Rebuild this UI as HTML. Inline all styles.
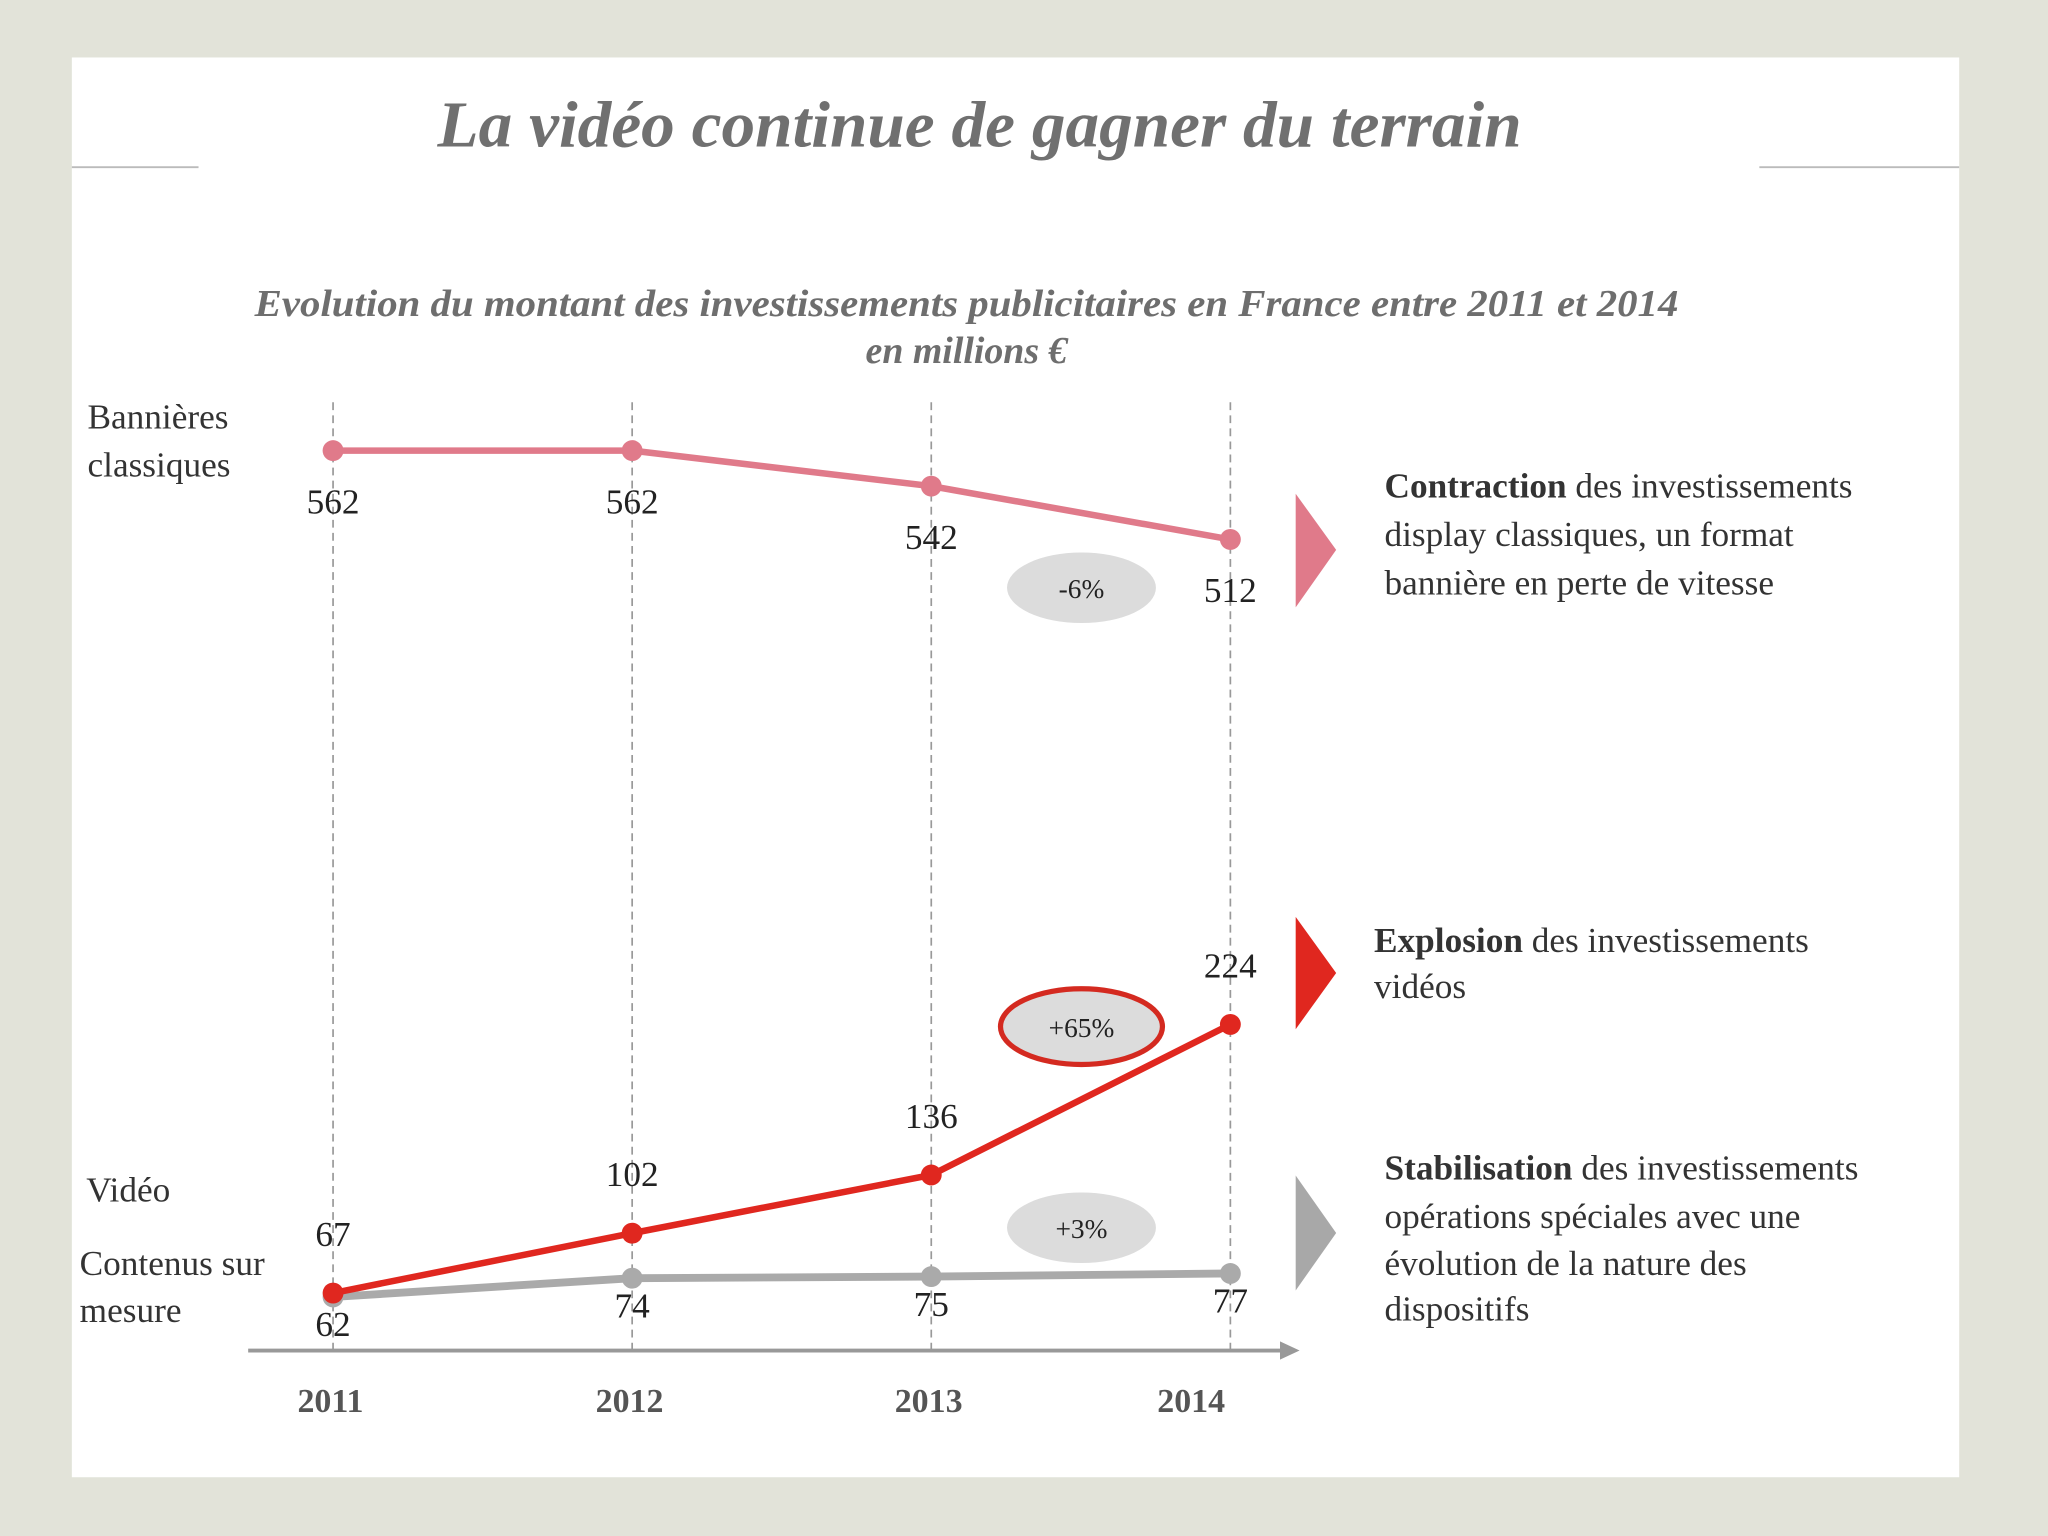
<!DOCTYPE html>
<html><head><meta charset="utf-8"><style>
html,body{margin:0;padding:0;background:#e2e3d9;}
svg{display:block;font-family:"Liberation Serif",serif;}
</style></head><body>
<svg width="2048" height="1536" viewBox="0 0 1568 1176">
<rect x="0" y="0" width="1568" height="1176" fill="#e2e3d9"/>
<rect x="55" y="44" width="1445" height="1087" fill="#ffffff"/>
<text x="335" y="112" textLength="830" lengthAdjust="spacingAndGlyphs" font-size="50" font-style="italic" font-weight="bold" fill="#707070">La vidéo continue de gagner du terrain</text>
<line x1="55" y1="128" x2="152" y2="128" stroke="#bbb" stroke-width="1.5"/>
<line x1="1347" y1="128" x2="1500" y2="128" stroke="#bbb" stroke-width="1.5"/>
<text x="195" y="242" textLength="1090" lengthAdjust="spacingAndGlyphs" font-size="29" font-style="italic" font-weight="bold" fill="#6e6e6e">Evolution du montant des investissements publicitaires en France entre 2011 et 2014</text>
<text x="740" y="278" text-anchor="middle" font-size="29" font-style="italic" font-weight="bold" fill="#6e6e6e">en millions €</text>
<g font-size="27" fill="#333">
<text x="67" y="328">Bannières</text>
<text x="67" y="365">classiques</text>
<text x="66" y="920">Vidéo</text>
<text x="61" y="976">Contenus sur</text>
<text x="61" y="1012">mesure</text>
</g>
<g id="chart"></g>
<line x1="190" y1="1034" x2="982" y2="1034" stroke="#999" stroke-width="3"/>
<polygon points="980,1027 995,1034 980,1041" fill="#999"/>
<ellipse cx="828" cy="450" rx="57" ry="27" fill="#dcdcdc"/>
<text x="828" y="458" text-anchor="middle" font-size="21" fill="#222">-6%</text>
<ellipse cx="828" cy="786" rx="62" ry="29" fill="#dcdcdc" stroke="#d42a20" stroke-width="4"/>
<text x="828" y="794" text-anchor="middle" font-size="21" fill="#222">+65%</text>
<ellipse cx="828" cy="940" rx="57" ry="27" fill="#dcdcdc"/>
<text x="828" y="948" text-anchor="middle" font-size="21" fill="#222">+3%</text>
<polygon points="992,378 1023,421 992,465" fill="#e07a8a"/>
<polygon points="992,702 1023,745 992,788" fill="#e0271f"/>
<polygon points="992,900 1023,944 992,988" fill="#a8a8a8"/>
<g font-size="27" fill="#333">
<text x="1060" y="381"><tspan font-weight="bold">Contraction</tspan> des investissements</text>
<text x="1060" y="418">display classiques, un format</text>
<text x="1060" y="455">bannière en perte de vitesse</text>
<text x="1052" y="729"><tspan font-weight="bold">Explosion</tspan> des investissements</text>
<text x="1052" y="764">vidéos</text>
<text x="1060" y="903"><tspan font-weight="bold">Stabilisation</tspan> des investissements</text>
<text x="1060" y="940">opérations spéciales avec une</text>
<text x="1060" y="976">évolution de la nature des</text>
<text x="1060" y="1011">dispositifs</text>
</g>
</svg>
<script>
const years = ['2011','2012','2013','2014'];
const bannieres = [562, 562, 542, 512];
const video = [67, 102, 136, 224];
const contenus = [62, 74, 75, 77];
const NS = 'http://www.w3.org/2000/svg';
const g = document.getElementById('chart');
function x(i){ return 255 + i*229; }
function yBan(v){ return 345 + (562 - v)*1.36; }
function yVid(v){ return 990 - (v - 67)*1.31; }
function yCon(v){ return 993 - (v - 62)*1.2; }
function mk(tag, attrs){ const e=document.createElementNS(NS,tag); for(const k in attrs) e.setAttribute(k,attrs[k]); g.appendChild(e); return e; }
years.forEach((yr,i)=>{
  const l = mk('line',{x1:x(i),y1:308,x2:x(i),y2:1034,stroke:'#999','stroke-width':1.3,'stroke-dasharray':'6,4'});
  
  
  const lx = i === years.length-1 ? x(i)-30 : x(i)-2;
  const t = mk('text',{x:lx,y:1081,'text-anchor':'middle','font-size':26,'font-weight':'bold',fill:'#555'});
  t.textContent = yr;
  
  
});
function series(vals, yf, color, w, name, labDy){
  const p = mk('polyline',{points:vals.map((v,i)=>x(i)+','+yf(v)).join(' '),fill:'none',stroke:color,'stroke-width':w});
  
  
  vals.forEach((v,i)=>{
    const c = mk('circle',{cx:x(i),cy:yf(v),r:8,fill:color});
    
    
    const t = mk('text',{x:x(i),y:yf(v)+labDy,'text-anchor':'middle','font-size':27,fill:'#222'});
    t.textContent = v;
    
    
  });
}
series(bannieres, yBan, '#e07a8a', 5, 'bannieres', 48);
series(contenus, yCon, '#aaaaaa', 6, 'contenus', 30);
series(video, yVid, '#e0271f', 5, 'video', -36);
</script>
</body></html>
